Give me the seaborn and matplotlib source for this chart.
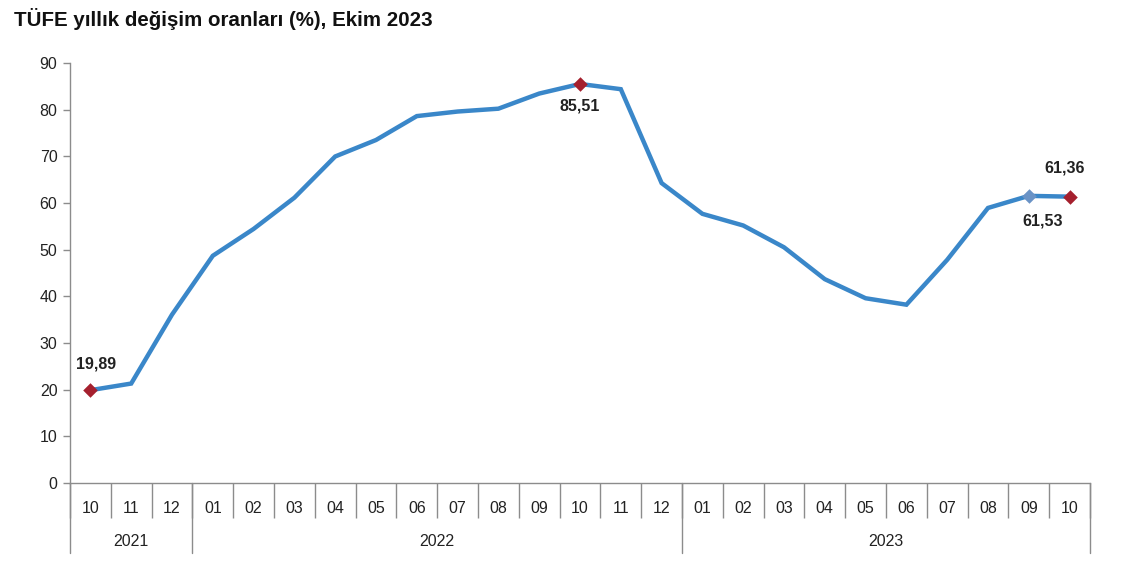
import matplotlib
matplotlib.use("Agg")
import matplotlib.pyplot as plt
import seaborn as sns
import pandas as pd
import numpy as np

months = ["10", "11", "12", "01", "02", "03", "04", "05", "06", "07", "08", "09",
          "10", "11", "12", "01", "02", "03", "04", "05", "06", "07", "08", "09", "10"]
years = ["2021", "2022", "2023"]
year_spans = [(0, 2), (3, 14), (15, 24)]
values = [19.89, 21.31, 36.08, 48.69, 54.44, 61.14, 69.97, 73.50, 78.62, 79.60, 80.21, 83.45,
          85.51, 84.39, 64.27, 57.68, 55.18, 50.51, 43.68, 39.59, 38.21, 47.83, 58.94, 61.53, 61.36]
title = "TÜFE yıllık değişim oranları (%), Ekim 2023"
yticks = [0, 10, 20, 30, 40, 50, 60, 70, 80, 90]

sns.set_theme(style="white")
plt.rcParams['font.family'] = ['Liberation Sans', 'DejaVu Sans']

df = pd.DataFrame({"idx": np.arange(len(values)), "val": values})

fig = plt.figure(figsize=(11.4, 5.7), dpi=100)
ax = fig.add_axes([70 / 1140, 87 / 570, 1020 / 1140, 420 / 570])

line_col = "#3A87C9"
red = "#A5202E"
bluegrey = "#6A93C6"
gray = "#8C8C8C"
txt = "#222222"

sns.lineplot(data=df, x="idx", y="val", ax=ax, color=line_col, linewidth=3.2,
             solid_joinstyle="miter", zorder=3)

# highlighted markers
red_idx = [0, 12, 24]
ax.scatter(df["idx"].iloc[red_idx], df["val"].iloc[red_idx], marker="D", s=55,
           color=red, zorder=5, linewidths=0)
ax.scatter([df["idx"].iloc[23]], [df["val"].iloc[23]], marker="D", s=55,
           color=bluegrey, zorder=5, linewidths=0)

def lab(i, dx, dy):
    ax.annotate(f"{values[i]:.2f}".replace(".", ","), (i, values[i]),
                xytext=(dx, -dy), textcoords="offset pixels", ha="center", va="center",
                fontsize=11.5, fontweight="bold", color=txt)

lab(0, 6, -26)
lab(12, 0, 22)
lab(23, 14, 25)
lab(24, -5, -29)

ax.set_xlim(-0.5, len(values) - 0.5)
ax.set_ylim(0, 90)
ax.set_yticks(yticks)
ax.set_yticklabels([str(v) for v in yticks], fontsize=11.5, color=txt)
ax.set_xticks(np.arange(len(values)))
ax.set_xticklabels(months, fontsize=11.5, color=txt)
ax.tick_params(axis="x", length=0, pad=13)
ax.tick_params(axis="y", length=5, width=1, color=gray, direction="out", pad=4, left=True)
ax.set_xticks(np.arange(len(values) + 1) - 0.5, minor=True)
ax.tick_params(axis="x", which="minor", length=25.5, width=1, color=gray, direction="out", bottom=True)

for s in ["top", "right"]:
    ax.spines[s].set_visible(False)
for s in ["left", "bottom"]:
    ax.spines[s].set_color(gray)
    ax.spines[s].set_linewidth(1)

ax.set_xlabel("")
ax.set_ylabel("")

trans = ax.get_xaxis_transform()
seps = [-0.5] + [b + 0.5 for (_, b) in year_spans]
for xs in seps:
    ax.plot([xs, xs], [0, -70 / 420], transform=trans, color=gray, linewidth=1,
            clip_on=False, zorder=1)
for (a, b), yr in zip(year_spans, years):
    ax.text((a + b) / 2, -58 / 420, yr, transform=trans, ha="center", va="center",
            fontsize=11.5, color=txt)

fig.text(14 / 1140, 1 - 19 / 570, title, fontsize=14.8, fontweight="bold",
         ha="left", va="center", color="#111111")

fig.savefig("out.png", dpi=100)
